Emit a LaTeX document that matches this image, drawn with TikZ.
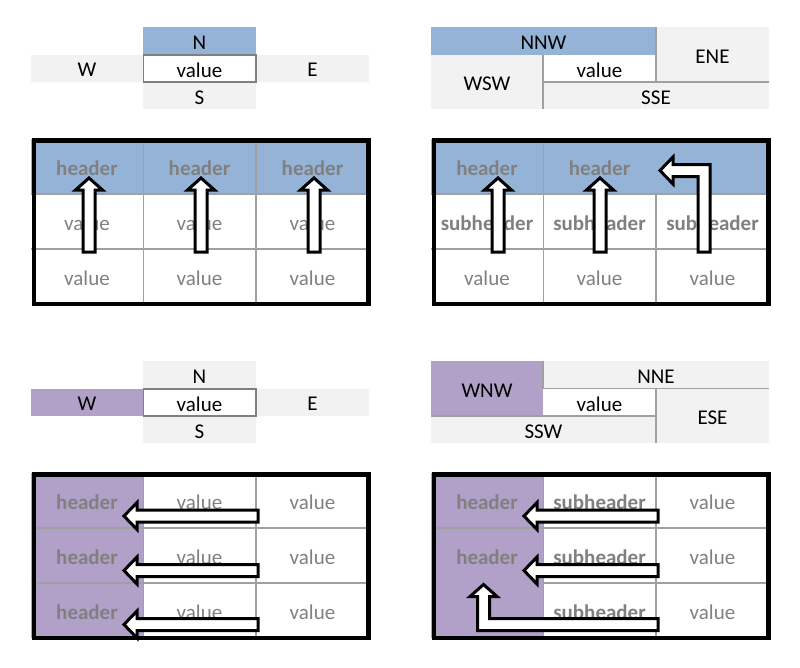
\documentclass[tikz,border=0pt]{standalone}
\usepackage{fontspec}
\setmainfont{Carlito}
\definecolor{hblue}{RGB}{149,179,215}
\definecolor{hpurple}{RGB}{177,160,199}
\definecolor{lgray}{RGB}{242,242,242}
\definecolor{gline}{RGB}{160,160,160}
\definecolor{vline}{RGB}{128,128,128}
\definecolor{tgray}{RGB}{128,128,128}
\tikzset{
  cell/.style={inner sep=0pt, outer sep=0pt, font=\fontsize{21}{24}\selectfont, text=black},
  tcell/.style={cell, text=tgray},
  bcell/.style={tcell, font=\fontsize{21}{24}\selectfont\bfseries},
  gridline/.style={draw=gline, line width=1.6pt},
  valbox/.style={draw=vline, line width=1.8pt},
  border/.style={draw=black, line width=4.5pt},
  blockarrow/.style={draw=black, fill=white, line width=3pt, line join=miter},
}
\newcommand\mycell[7]{%
  \pgfmathsetmacro\cw{#4-#2}\pgfmathsetmacro\ch{#5-#3}%
  \path[fill=#6] (#2,#3) rectangle (#4,#5);%
  \node[cell, minimum width=\cw pt, minimum height=\ch pt] (#1) at ({(#2+#4)/2},{(#3+#5)/2+2}) {#7};}
\newcommand\txt[5]{\node[#4] (#1) at (#2,#3+1.5) {#5};}
\newcommand\uparr[2]{% center x, name prefix
  \draw[blockarrow] (#1-6,252) -- (#1-6,190) -- (#1-13.5,190) -- (#1,178) -- (#1+13.5,190) -- (#1+6,190) -- (#1+6,252) -- cycle;}
\newcommand\leftarr[3]{% right x, center y, tip x
  \draw[blockarrow] (#1,#2-6) -- (#3+13,#2-6) -- (#3+13,#2-13.5) -- (#3,#2) -- (#3+13,#2+13.5) -- (#3+13,#2+6) -- (#1,#2+6) -- cycle;}
\begin{document}
\begin{tikzpicture}[x=1pt,y=-1pt]
\useasboundingbox[fill=white] (0,0) rectangle (800,667);

% ---------- small grid 1 (top left)
\mycell{gaN}{143}{27}{256}{54.5}{hblue}{N}
\mycell{gaW}{31}{54.5}{143}{82}{lgray}{W}
\mycell{gaE}{256}{54.5}{369}{82}{lgray}{E}
\mycell{gaS}{143}{82}{256}{109}{lgray}{S}
\mycell{gaV}{143}{54.5}{256}{82}{white}{value}
\draw[valbox] (143.5,55) rectangle (256,82);

% ---------- small grid 2 (top right)
\mycell{gbNNW}{431}{27}{656}{54.5}{hblue}{NNW}
\mycell{gbENE}{656}{27}{769}{82}{lgray}{ENE}
\mycell{gbWSW}{431}{54.5}{543}{109}{lgray}{WSW}
\mycell{gbV}{543}{54.5}{656}{82}{white}{value}
\mycell{gbSSE}{543}{82}{769}{109}{lgray}{SSE}
\draw[gridline] (656,27) -- (656,82);
\draw[gridline] (543,82) -- (769,82);
\draw[gridline] (543,54.5) -- (543,109);

% ---------- table 1 (top left)
\fill[hblue] (31,139) rectangle (369,194);
\txt{taH1}{87}{166.5}{bcell}{header}
\txt{taH2}{199.5}{166.5}{bcell}{header}
\txt{taH3}{312.5}{166.5}{bcell}{header}
\txt{taA1}{87}{221.5}{tcell}{value}
\txt{taA2}{199.5}{221.5}{tcell}{value}
\txt{taA3}{312.5}{221.5}{tcell}{value}
\txt{taB1}{87}{276.5}{tcell}{value}
\txt{taB2}{199.5}{276.5}{tcell}{value}
\txt{taB3}{312.5}{276.5}{tcell}{value}
\draw[gridline] (143.5,139) -- (143.5,304) (256,139) -- (256,304)
  (31,194) -- (369,194) (31,249) -- (369,249);
\draw[border] (34,140.5) rectangle (368.5,304);
\uparr{89}{a}
\uparr{201}{b}
\uparr{314}{c}

% ---------- table 2 (top right)
\fill[hblue] (431,139) rectangle (769,194);
\txt{tbH1}{487}{166.5}{bcell}{header}
\txt{tbH2}{599.5}{166.5}{bcell}{header}
\txt{tbS1}{487}{221.5}{bcell}{subheader}
\txt{tbS2}{599.5}{221.5}{bcell}{subheader}
\txt{tbS3}{712.5}{221.5}{bcell}{subheader}
\txt{tbB1}{487}{276.5}{tcell}{value}
\txt{tbB2}{599.5}{276.5}{tcell}{value}
\txt{tbB3}{712.5}{276.5}{tcell}{value}
\draw[gridline] (543.5,139) -- (543.5,304) (656,194) -- (656,304)
  (431,194) -- (769,194) (431,249) -- (769,249);
\draw[border] (434,140.5) rectangle (768.5,304);
\uparr{498}{d}
\uparr{600}{e}
\draw[blockarrow] (698,252) -- (698,176.5) -- (673,176.5) -- (673,184) -- (660,170.5) -- (673,157) -- (673,164.5) -- (710,164.5) -- (710,252) -- cycle;

% ---------- small grid 3 (bottom left)
\mycell{gcN}{143}{361}{256}{388.5}{lgray}{N}
\mycell{gcW}{31}{388.5}{143}{416}{hpurple}{W}
\mycell{gcE}{256}{388.5}{369}{416}{lgray}{E}
\mycell{gcS}{143}{416}{256}{443}{lgray}{S}
\mycell{gcV}{143}{388.5}{256}{416}{white}{value}
\draw[valbox] (143.5,389) rectangle (256,416);

% ---------- small grid 4 (bottom right)
\mycell{gdWNW}{431}{361}{543}{416}{hpurple}{WNW}
\mycell{gdNNE}{543}{361}{769}{388.5}{lgray}{NNE}
\mycell{gdV}{543}{388.5}{656}{416}{white}{value}
\mycell{gdESE}{656}{388.5}{769}{443}{lgray}{ESE}
\mycell{gdSSW}{431}{416}{656}{443}{lgray}{SSW}
\draw[gridline] (543,361) -- (543,388.5);
\draw[gridline] (543,388.5) -- (769,388.5);
\draw[gridline] (656,388.5) -- (656,443);
\draw[gridline] (431,416) -- (656,416);

% ---------- table 3 (bottom left)
\fill[hpurple] (31,473) rectangle (143.5,638);
\txt{tcH1}{87}{500.5}{bcell}{header}
\txt{tcH2}{87}{555.5}{bcell}{header}
\txt{tcH3}{87}{610.5}{bcell}{header}
\txt{tcA2}{199.5}{500.5}{tcell}{value}
\txt{tcA3}{312.5}{500.5}{tcell}{value}
\txt{tcB2}{199.5}{555.5}{tcell}{value}
\txt{tcB3}{312.5}{555.5}{tcell}{value}
\txt{tcC2}{199.5}{610.5}{tcell}{value}
\txt{tcC3}{312.5}{610.5}{tcell}{value}
\draw[gridline] (143.5,473) -- (143.5,638) (256,473) -- (256,638)
  (31,528) -- (369,528) (31,583) -- (369,583);
\draw[border] (34,474.5) rectangle (368.5,638);
\leftarr{258}{516}{124}
\leftarr{258}{570.5}{124}
\leftarr{258}{624.5}{124}

% ---------- table 4 (bottom right)
\fill[hpurple] (431,473) rectangle (543.5,638);
\txt{tdH1}{487}{500.5}{bcell}{header}
\txt{tdH2}{487}{555.5}{bcell}{header}
\txt{tdS1}{599.5}{500.5}{bcell}{subheader}
\txt{tdS2}{599.5}{555.5}{bcell}{subheader}
\txt{tdS3}{599.5}{610.5}{bcell}{subheader}
\txt{tdV1}{712.5}{500.5}{tcell}{value}
\txt{tdV2}{712.5}{555.5}{tcell}{value}
\txt{tdV3}{712.5}{610.5}{tcell}{value}
\draw[gridline] (543.5,473) -- (543.5,638) (656,473) -- (656,638)
  (431,528) -- (769,528) (543.5,583) -- (769,583);
\draw[border] (434,474.5) rectangle (768.5,638);
\leftarr{658}{516}{524}
\leftarr{658}{570.5}{524}
\draw[blockarrow] (658,618.5) -- (489.5,618.5) -- (489.5,596.5) -- (497,596.5) -- (483.5,584.5) -- (470,596.5) -- (477.5,596.5) -- (477.5,630.5) -- (658,630.5) -- cycle;
\end{tikzpicture}
\end{document}
